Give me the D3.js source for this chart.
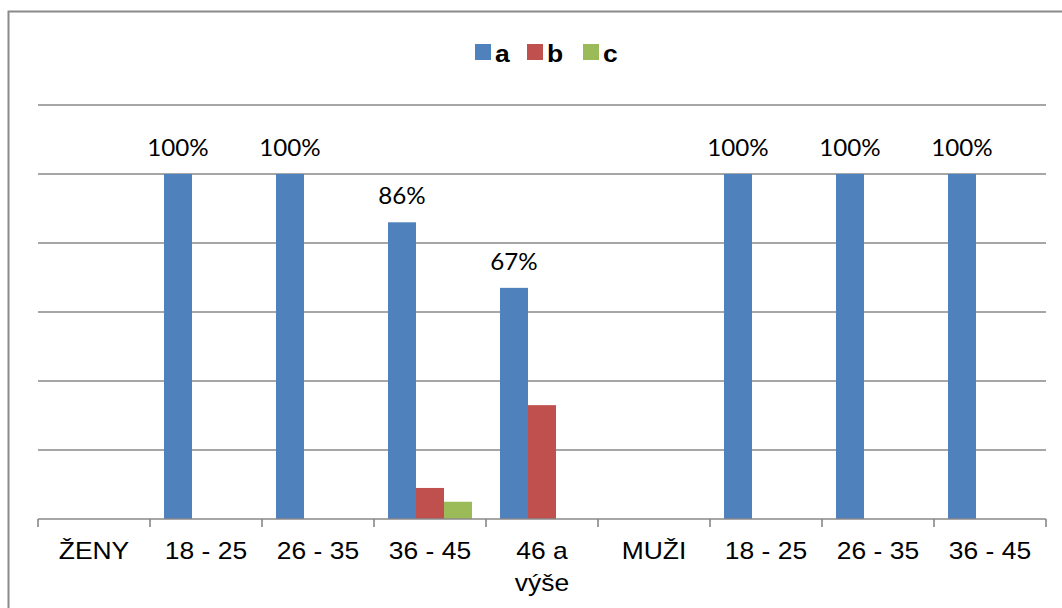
<!DOCTYPE html>
<html>
<head>
<meta charset="utf-8">
<script src="https://cdn.jsdelivr.net/npm/d3@7/dist/d3.min.js"></script>
<style>
  html, body { margin: 0; padding: 0; background: #fff; }
  svg { display: block; }
</style>
</head>
<body>
<svg id="chart" width="1062" height="608"></svg>
<script>
// Category labels along the x axis (two groups: women and men, by age)
const categories = ["ŽENY", "18 - 25", "26 - 35", "36 - 45", "46 a výše", "MUŽI", "18 - 25", "26 - 35", "36 - 45"];
const seriesNames = ["a", "b", "c"];
// Shares per category (null = header category without bars)
const valuesA = [null, 1.00, 1.00, 0.86, 0.67, null, 1.00, 1.00, 1.00];
const valuesB = [null, 0, 0, 0.09, 0.33, null, 0, 0, 0];
const valuesC = [null, 0, 0, 0.05, 0, null, 0, 0, 0];
const gridValues = [0.2, 0.4, 0.6, 0.8, 1.0, 1.2];
const seriesColors = ["#4F81BD", "#C0504D", "#9BBB59"];

const series = [valuesA, valuesB, valuesC];
const svg = d3.select("#chart");

const plot = { left: 38, right: 1046, top: 105, bottom: 519 };
const textStretch = 1.15; // wide text face

const x0 = d3.scaleBand()
  .domain(d3.range(categories.length))
  .range([plot.left, plot.right])
  .paddingInner(0).paddingOuter(0);
const x1 = d3.scaleBand()
  .domain(seriesNames)
  .range([14, x0.bandwidth() - 14]);
const y = d3.scaleLinear().domain([0, 1.2]).range([plot.bottom, plot.top]);
const color = d3.scaleOrdinal().domain(seriesNames).range(seriesColors);

// chart frame
svg.append("rect")
  .attr("x", 8.5).attr("y", 11.5)
  .attr("width", 1080).attr("height", 640)
  .attr("fill", "none").attr("stroke", "#8a8a8a").attr("stroke-width", 2);

// horizontal gridlines
svg.append("g").selectAll("line").data(gridValues).join("line")
  .attr("x1", plot.left).attr("x2", plot.right)
  .attr("y1", d => y(d)).attr("y2", d => y(d))
  .attr("stroke", "#888").attr("stroke-width", 1.6);

// bars
const rows = categories.map((c, i) => ({ i, vals: seriesNames.map((s, k) => ({ s, v: series[k][i] })) }));
const groups = svg.append("g").selectAll("g").data(rows).join("g")
  .attr("transform", d => `translate(${x0(d.i)},0)`);
groups.selectAll("rect").data(d => d.vals.filter(e => e.v)).join("rect")
  .attr("x", d => x1(d.s)).attr("width", x1.bandwidth())
  .attr("y", d => y(d.v)).attr("height", d => y(0) - y(d.v))
  .attr("fill", d => color(d.s));

// value labels for series a
svg.append("g").selectAll("text").data(valuesA.map((v, i) => ({ v, i })).filter(d => d.v))
  .join("text")
  .attr("transform", d => `translate(${x0(d.i) + x1("a") + x1.bandwidth() / 2},${y(d.v) - 18}) scale(1.05,1)`)
  .attr("text-anchor", "middle")
  .attr("font-family", "Lato, 'Open Sans', sans-serif")
  .attr("font-size", 23)
  .attr("fill", "#000")
  .text(d => d3.format(".0%")(d.v));

// x axis baseline with ticks at category boundaries
const axisG = svg.append("g");
axisG.append("line")
  .attr("x1", plot.left).attr("x2", plot.right)
  .attr("y1", y(0)).attr("y2", y(0))
  .attr("stroke", "#888").attr("stroke-width", 1.6);
const bounds = d3.range(categories.length + 1).map(i => i < categories.length ? x0(i) : plot.right);
axisG.selectAll("line.tick").data(bounds).join("line")
  .attr("class", "tick")
  .attr("x1", d => d).attr("x2", d => d)
  .attr("y1", y(0)).attr("y2", y(0) + 8)
  .attr("stroke", "#888").attr("stroke-width", 1.6);

// category labels (wrapped onto two lines where long)
const labelLines = { "46 a výše": ["46 a", "výše"] };
const lab = axisG.selectAll("text.cat").data(categories.map((c, i) => ({ c, i }))).join("text")
  .attr("class", "cat")
  .attr("text-anchor", "middle")
  .attr("font-family", "'Liberation Sans', Arial, sans-serif")
  .attr("font-size", 23)
  .attr("fill", "#000")
  .attr("transform", d => `translate(${x0(d.i) + x0.bandwidth() / 2},559) scale(${textStretch},1)`);
lab.each(function (d) {
  const lines = labelLines[d.c] || [d.c];
  d3.select(this).selectAll("tspan").data(lines).join("tspan")
    .attr("x", 0).attr("y", (l, k) => k * 32).text(l => l);
});

// legend
const legendX = [475, 527, 583];
const leg = svg.append("g").selectAll("g").data(seriesNames).join("g")
  .attr("transform", (d, k) => `translate(${legendX[k]},44)`);
leg.append("rect").attr("width", 16).attr("height", 16).attr("fill", d => color(d));
leg.append("text")
  .attr("transform", `translate(20,17.5) scale(${textStretch},1)`)
  .attr("font-family", "'Liberation Sans', Arial, sans-serif")
  .attr("font-weight", "bold").attr("font-size", 23)
  .attr("fill", "#000")
  .text(d => d);
</script>
</body>
</html>
